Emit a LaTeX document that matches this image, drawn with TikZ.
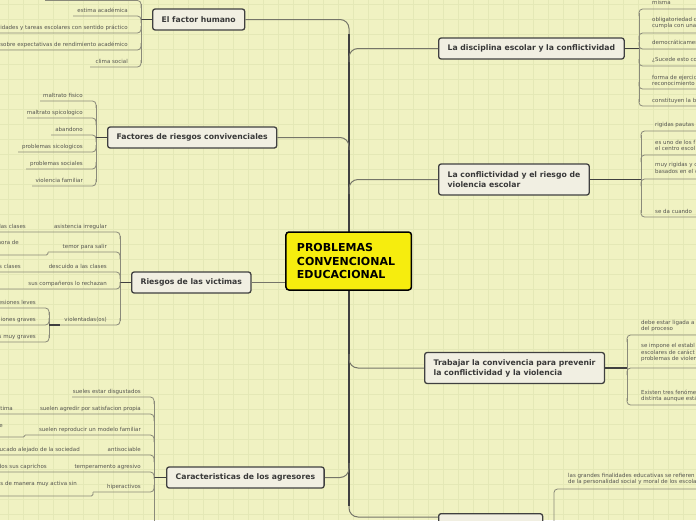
\documentclass[tikz,border=0pt]{standalone}
\usepackage{fontspec}
\setmainfont{DejaVu Sans}
\usetikzlibrary{positioning}

\definecolor{fondo}{RGB}{240,242,194}
\definecolor{reja}{RGB}{228,232,182}
\definecolor{amarillo}{RGB}{246,237,14}
\definecolor{caja}{RGB}{241,239,226}
\definecolor{borde}{RGB}{64,64,64}
\definecolor{linea}{RGB}{138,138,122}
\definecolor{letra}{RGB}{85,85,80}

\begin{document}
\begin{tikzpicture}[x=1pt,y=-1pt,
  centro/.style={draw=black,line width=1.5pt,fill=amarillo,rounded corners=3pt,
    font=\fontsize{11}{13.5}\selectfont\bfseries,text width=103.5pt,align=left,
    inner xsep=11pt,minimum height=58pt},
  tema/.style={draw=borde,line width=1.3pt,fill=caja,rounded corners=2.5pt,anchor=west,
    font=\fontsize{7.7}{10}\selectfont\bfseries,text=black!78,inner xsep=9pt,minimum height=21pt},
  tema2/.style={tema,align=left,minimum height=31pt},
  hoja/.style={font=\fontsize{5.5}{6.5}\selectfont,text=letra,inner sep=0pt},
  rama/.style={draw=linea,line width=0.8pt,rounded corners=3.5pt},
  enlace/.style={draw=linea!85!black,line width=1pt,rounded corners=9pt},
  toque/.style={draw=borde,line width=1.8pt},
  tronco/.style={draw=borde,line width=2.6pt}]

  % fondo cuadriculado
  \useasboundingbox (0,0) rectangle (696,520);
  \fill[fondo] (0,0) rectangle (696,520);
  \foreach \g in {8,23,...,698} \draw[reja,line width=0.5pt] (\g,0) -- (\g,520);
  \foreach \g in {4,19,...,519} \draw[reja,line width=0.5pt] (0,\g) -- (696,\g);

  \begin{scope}
  \clip (0,0) rectangle (696,520);

  % tronco central
  \coordinate (arriba) at (349,34);
  \coordinate (abajo) at (349,506);
  \draw[tronco] (arriba) -- (abajo);

  % temas
  \node[centro] (pce) at (348.7,261) {PROBLEMAS\\CONVENCIONAL\\EDUCACIONAL};
  \node[tema] (fh) at (152,19.5) {El factor humano};
  \node[tema] (fr) at (107,137.5) {Factores de riesgos convivenciales};
  \node[tema] (rv) at (131,282.5) {Riesgos de las victimas};
  \node[tema] (ca) at (166,477.5) {Caracteristicas de los agresores};
  \node[tema] (di) at (438,48.5) {La disciplina escolar y la conflictividad};
  \node[tema2] (cv) at (438,179.5) {La conflictividad y el riesgo de\\violencia escolar};
  \node[tema2] (tc) at (424,368) {Trabajar la convivencia para prevenir\\la conflictividad y la violencia};
  \node[tema,anchor=north west,minimum width=104pt] (bx) at (438,513) {};

  % ramas del tronco
  \coordinate (bxin) at (438,517);
  \draw[enlace] (fh.east) -| (arriba);
  \draw[enlace] (fr.east) -| (349,150);
  \draw[enlace] (rv.east) -- (rv.east -| pce.west);
  \draw[enlace] (ca.east) -| (349,463);
  \draw[enlace] (349,62) |- (di.west);
  \draw[enlace] (349,194) |- (cv.west);
  \draw[enlace] (349,354) |- (tc.west);
  \draw[enlace] (abajo) |- (bxin);

  % El factor humano
  \draw[rama] (45,0.5) -- (141,0.5) -- (141,8);
  \draw[rama] (141,4) -- (141,63);
  \draw[toque] (141,19.5) -- (fh.west);
  \foreach \y/\xs/\txt [count=\i] in {16/73/estima académica,33/0/idades y tareas escolares con sentido práctico,
      50/0/sobre expectativas de rendimiento académico,67/90/clima social}{
    \node[hoja,anchor=base east] (fh\i) at (128,\y-3.5) {\txt};
    \pgfmathsetmacro\dy{\y<19.5 ? 7 : -7}
    \draw[rama] (\xs,\y) -- (141,\y) -- ++(0,\dy);
  }

  % Factores de riesgos
  \draw[rama] (96,105) -- (96,182);
  \draw[toque] (96,137.5) -- (fr.west);
  \foreach \y/\xs/\txt [count=\i] in {101/40/maltrato fisico,118/27/maltrato spicologico,135/51/abandono,
      152/18/problemas sicologicos,169/26/problemas sociales,186/32/violencia familiar}{
    \node[hoja,anchor=base east] (fr\i) at (83,\y-3.5) {\txt};
    \pgfmathsetmacro\dy{\y<137.5 ? 7 : -7}
    \draw[rama] (\xs,\y) -- (96,\y) -- ++(0,\dy);
  }

  % Riesgos de las victimas
  \draw[rama] (120,236) -- (120,321);
  \draw[toque] (120,282.5) -- (rv.west);
  \foreach \y/\xs/\txt [count=\i] in {232/0/asistencia irregular,252/48/temor para salir,272/0/descuido a las clases,
      289/0/sus compañeros lo rechazan,325/60/violentadas(os)}{
    \node[hoja,anchor=base east] (rv\i) at (107,\y-3.5) {\txt};
    \pgfmathsetmacro\dy{\y<282.5 ? 7 : -7}
    \draw[rama] (\xs,\y) -- (120,\y) -- ++(0,\dy);
  }
  \node[hoja,anchor=base east] (rv1a) at (26,228.5) {las clases};
  \node[hoja,anchor=base east] (rv2a) at (19,244.5) {nora de};
  \draw[rama,rounded corners=1.5pt] (0,255) -- (48,255) -- (48,252);
  \node[hoja,anchor=base east] (rv3a) at (21,268.5) {s clases};
  \draw[rama] (49,312) -- (49,338);
  \draw[toque] (49,325) -- (60,325);
  \foreach \y/\txt [count=\i] in {308/esiones leves,325/iones graves,342/s muy graves}{
    \node[hoja,anchor=base east] (vi\i) at (36,\y-3.5) {\txt};
    \pgfmathsetmacro\dy{\y<325 ? 7 : -7}
    \draw[rama] (0,\y) -- (49,\y) -- ++(0,\dy);
  }

  % Caracteristicas de los agresores
  \draw[rama] (154,401) -- (154,525);
  \draw[toque] (154,477.5) -- (ca.west);
  \foreach \y/\xs/\txt [count=\i] in {397/72/sueles estar disgustados,414/0/suelen agredir por satisfacion propia,
      435/25/suelen reproducir un modelo familiar,455/0/antisociable,472/0/temperamento agresivo,492/93/hiperactivos}{
    \node[hoja,anchor=base east] (ca\i) at (141,\y-3.5) {\txt};
    \pgfmathsetmacro\dy{\y<477.5 ? 7 : -7}
    \draw[rama] (\xs,\y) -- (154,\y) -- ++(0,\dy);
  }
  \node[hoja,anchor=base east] (ca2a) at (13,410.5) {tima};
  \node[hoja,anchor=base east] (ca3a) at (3,427.5) {e};
  \draw[rama,rounded corners=1.5pt] (0,437) -- (25,437) -- (25,435);
  \node[hoja,anchor=base east] (ca4a) at (80,451.5) {ucado alejado de la sociedad};
  \node[hoja,anchor=base east] (ca5a) at (47,468.5) {dos sus caprichos};
  \node[hoja,anchor=base east] (ca6a) at (77,485.5) {s de manera muy activa sin};
  \draw[rama,rounded corners=1.5pt] (0,496) -- (93,496) -- (93,492);

  % La disciplina escolar
  \draw[rama] (639,13) -- (639,102);
  \draw[toque] (di.east) -- (639,48.5);
  \foreach \y/\b/\txt [count=\i] in {9/4.8/misma,33/27.5/{obligatoriedad d\\cumpla con una},49/44.2/democráticamen,
      66/61.5/¿Sucede esto co,89/85.5/{forma de ejercic\\reconocimiento},106/102.5/constituyen la b}{
    \node[hoja,anchor=base west,align=left] (di\i) at (652,\b) {\txt};
    \pgfmathsetmacro\dy{\y<48.5 ? 7 : -7}
    \draw[rama] (639,\y) ++(0,\dy) -- (639,\y) -- (700,\y);
  }

  % La conflictividad
  \draw[rama] (641,135) -- (641,213);
  \draw[toque] (cv.east) -- (641,179.5);
  \foreach \y/\b/\txt [count=\i] in {131/126.5/rigidas pautas,155/150.8/{es uno de los f\\el centro escol},
      179/173.2/{muy rigidas y c\\basados en el c},217/213.2/se da cuando}{
    \node[hoja,anchor=base west,align=left] (cv\i) at (655,\b) {\txt};
    \pgfmathsetmacro\dy{\y<179.5 ? 7 : -7}
    \draw[rama] (641,\y) ++(0,\dy) -- (641,\y) -- (700,\y);
  }

  % Trabajar la convivencia
  \draw[rama] (627,339) -- (627,401);
  \draw[toque] (tc.east) -- (627,368);
  \foreach \y/\b/\txt [count=\i] in {335/330.8/{debe estar ligada a\\del proceso},
      368/360.5/{se impone el establ\\escolares de caráct\\problemas de violen},
      405/400.8/{Existen tres fenóme\\distinta aunque está}}{
    \node[hoja,anchor=base west,align=left] (tc\i) at (641,\b) {\txt};
    \pgfmathsetmacro\dy{\y<369 ? 7 : -7}
    \draw[rama] (627,\y) ++(0,\dy) -- (627,\y) -- (700,\y);
  }

  % rama inferior
  \node[hoja,anchor=base west,align=left] (bx1) at (568,483.8)
    {las grandes finalidades educativas se refieren a\\de la personalidad social y moral de los escola};
  \draw[rama] (554,525) -- (554,489) -- (700,489);
  \end{scope}
\end{tikzpicture}
\end{document}
